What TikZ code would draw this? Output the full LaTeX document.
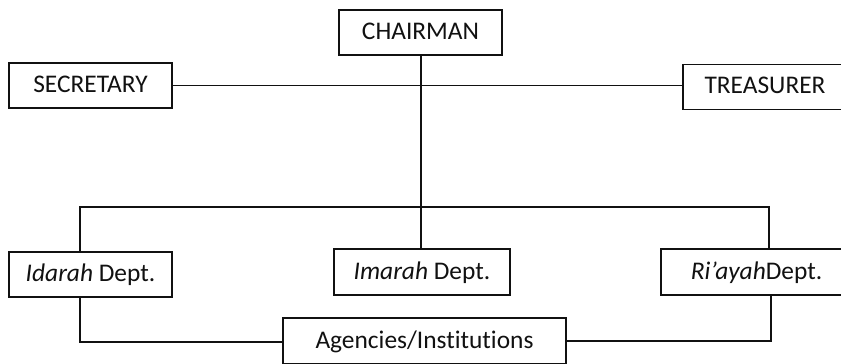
\documentclass[tikz,border=0pt]{standalone}
\usepackage{fontspec}
\setmainfont{Carlito}[Ligatures=NoCommon]
\usepackage{tikz}
\usetikzlibrary{positioning,calc}
\definecolor{ink}{HTML}{111111}
\tikzset{
  box/.style={draw=ink,line width=0.7pt,fill=white,inner sep=0pt,text=ink,minimum height=22.5pt,font=\fontsize{12.7}{14}\selectfont,text depth=1.5pt},
  postbox/.style={box,minimum width=81.5pt},
  link/.style={draw=ink,line width=0.7pt},
  spine/.style={draw=ink,line width=1pt},
}

\begin{document}
\begin{tikzpicture}[x=0.5pt,y=-0.5pt]
    \useasboundingbox (0,0) rectangle (841,364);
    \clip (0,0) rectangle (841,364);
    % officers
    \node[postbox] (chair) at (420.5,32.5) {CHAIRMAN};
    \node[postbox] (sec) at (90.5,85.5) {SECRETARY};
    \node[postbox,minimum width=82pt] (treas) at (765,87) {TREASURER};
    % departments
    \node[postbox,minimum height=22.5pt] (idarah) at (90.5,274.5) {\textit{Idarah} Dept.};
    \node[box,minimum width=88pt,minimum height=23pt] (imarah) at (422,272) {\textit{Imarah} Dept.};
    \node[box,minimum width=95.5pt,minimum height=23pt] (riayah) at (756.5,272) {\textit{Ri’ayah}Dept.};
    \node[box,minimum width=141.5pt,minimum height=23pt] (agency) at (424.5,341) {Agencies/Institutions};
    \coordinate (busL) at (80,207);
    \coordinate (busR) at (769,207);
    \coordinate (lowL) at (80,342);
    \coordinate (lowR) at (771,341);
    \draw[spine] (chair.south) -- (chair.south |- imarah.north);
    \draw[link] (sec.east) -- (sec.east -| treas.west);
    \draw[link] (busL |- idarah.north) -- (busL) -- (busR) -- (busR |- riayah.north);
    \draw[link] (lowL |- idarah.south) -- (lowL) -- (lowL -| agency.west);
    \draw[link] (lowR |- riayah.south) -- (lowR) -- (lowR -| agency.east);
  \end{tikzpicture}
\end{document}
